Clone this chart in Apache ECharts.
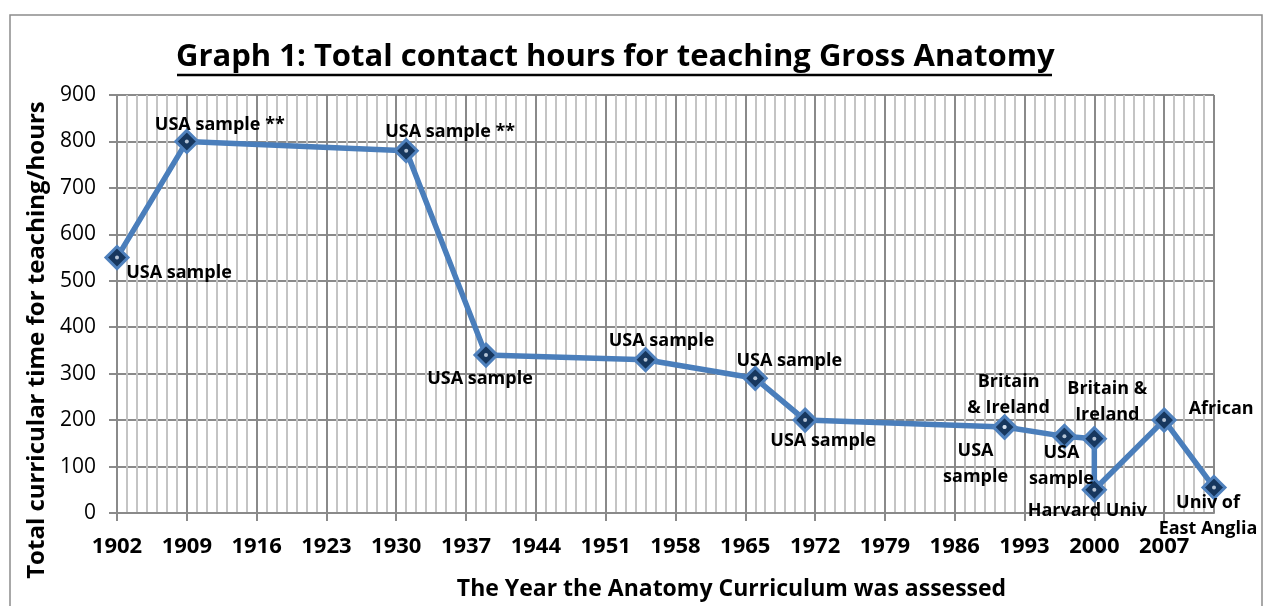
<!DOCTYPE html>
<html>
<head>
<meta charset="utf-8">
<script src="https://cdn.jsdelivr.net/npm/echarts@6/dist/echarts.min.js"></script>
<style>
html,body{margin:0;padding:0;background:#fff;}
#chart{width:1267px;height:606px;}
</style>
</head>
<body>
<div id="chart"></div>
<script>
// ---- data ----
const years = [1902, 1909, 1931, 1939, 1955, 1966, 1971, 1991, 1991, 1997, 2000, 2000, 2007, 2012];
const hours = [550, 800, 780, 340, 330, 290, 200, 185, 185, 165, 160, 50, 200, 55];
const pointLabels = ['USA sample', 'USA sample **', 'USA sample **', 'USA sample', 'USA sample', 'USA sample', 'USA sample',
  'Britain\n& Ireland', 'USA\nsample', 'USA\nsample', 'Britain &\nIreland', 'Harvard Univ', 'African', 'Univ of\nEast Anglia'];
const titleText = 'Graph 1: Total contact hours for teaching Gross Anatomy';
const xAxisTitle = 'The Year the Anatomy Curriculum was assessed';
const yAxisTitle = 'Total curricular time for teaching/hours';

// ---- styling (label placement offsets, px) ----
const labelOffsets = [[62, 15], [33, -17], [44, -19], [-6, 24], [16, -19], [34, -17], [18, 21],
  [4, -32], [-29, 37], [-3, 30], [13, -37], [-7, 21], [57, -11], [-6, 28]];

const FONT = 'Open Sans';
const lineData = years.map((y, i) => ({
  value: [y, hours[i]],
  label: { formatter: pointLabels[i], offset: labelOffsets[i] }
}));
const dotData = years.map((y, i) => [y, hours[i]]);

const chart = echarts.init(document.getElementById('chart'));
chart.setOption({
  animation: false,
  backgroundColor: '#fff',
  textStyle: { fontFamily: FONT },
  title: {
    text: titleText,
    left: 171, top: 37,
    textStyle: { fontFamily: FONT, fontWeight: 'bold', fontSize: 31, color: '#000' }
  },
  graphic: [
    { type: 'rect', shape: { x: 10, y: 15, width: 1252, height: 600 },
      style: { fill: 'none', stroke: '#8c8c8c', lineWidth: 1.5 }, z: -1 },
    { type: 'line', shape: { x1: 177, y1: 75, x2: 1052, y2: 75 },
      style: { stroke: '#000', lineWidth: 2.5 } }
  ],
  grid: { left: 117, right: 53, top: 95, bottom: 91, containLabel: false },
  xAxis: [
    {
      type: 'value', position: 'bottom', min: 1902, max: 2012, interval: 1,
      axisLine: { show: false }, axisTick: { show: false }, axisLabel: { show: false },
      splitLine: { show: true, lineStyle: { color: '#c4c4c4', width: 2 } }
    },
    {
      type: 'value', position: 'bottom', min: 1902, max: 2012, interval: 7,
      name: xAxisTitle, nameLocation: 'middle', nameGap: 65,
      nameTextStyle: { fontFamily: FONT, fontWeight: 'bold', fontSize: 23, color: '#000', padding: [0, 0, 0, 132] },
      axisLine: { show: true, onZero: false, lineStyle: { color: '#8a8a8a', width: 2 } },
      axisTick: { show: true, length: 8, lineStyle: { color: '#8a8a8a', width: 2 } },
      axisLabel: {
        margin: 23, fontFamily: FONT, fontWeight: 'bold', fontSize: 22, color: '#000',
        showMaxLabel: false,
        formatter: v => String(v)
      },
      splitLine: { show: true, lineStyle: { color: '#8a8a8a', width: 2 } }
    }
  ],
  yAxis: {
    type: 'value', min: 0, max: 900, interval: 100,
    name: yAxisTitle, nameLocation: 'middle', nameGap: 66, nameRotate: 90,
    nameTextStyle: { fontFamily: FONT, fontWeight: 'bold', fontSize: 24, color: '#000', padding: [0, 72, 0, 0] },
    axisLine: { show: true, lineStyle: { color: '#8a8a8a', width: 2 } },
    axisTick: { show: true, length: 8, lineStyle: { color: '#8a8a8a', width: 2 } },
    axisLabel: { margin: 21, fontFamily: FONT, fontSize: 21, color: '#000' },
    splitLine: { show: true, lineStyle: { color: '#8a8a8a', width: 2 } }
  },
  series: [
    {
      type: 'line', xAxisIndex: 1, data: lineData,
      lineStyle: { color: '#4a7ebb', width: 5.5 },
      symbol: 'diamond', symbolSize: 22,
      itemStyle: { color: '#17375e', borderColor: '#4f81bd', borderWidth: 3 },
      label: {
        show: true, position: 'inside', align: 'center', verticalAlign: 'middle',
        fontFamily: FONT, fontWeight: 'bold', fontSize: 18, lineHeight: 26, color: '#000'
      },
      z: 3
    },
    {
      type: 'scatter', xAxisIndex: 1, data: dotData,
      symbol: 'circle', symbolSize: 4,
      itemStyle: { color: '#dce6f2' }, silent: true, z: 4
    }
  ]
});
</script>
</body>
</html>
